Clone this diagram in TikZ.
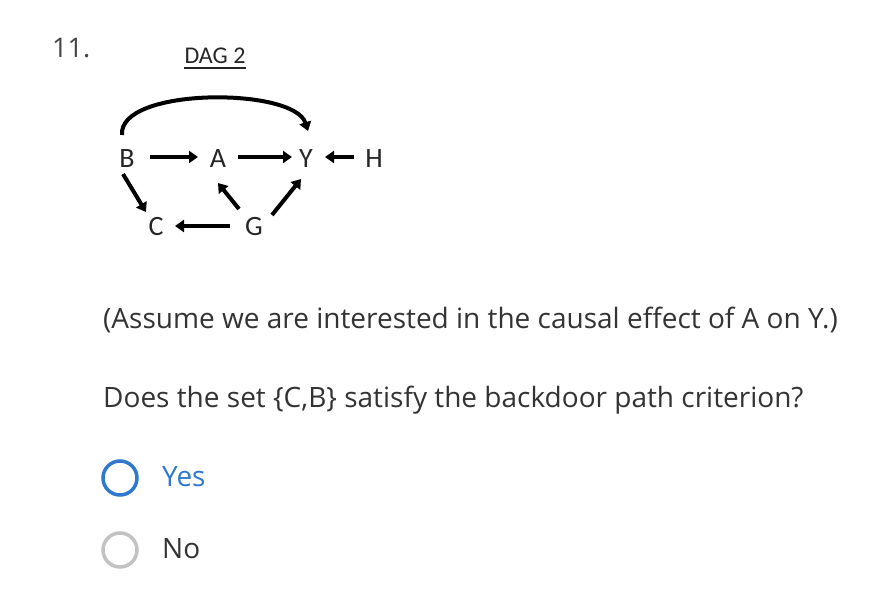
\documentclass[tikz,border=0pt]{standalone}
\usepackage{fontspec}
\setmainfont{Open Sans}
\newfontfamily\dagfont{Carlito}
\usetikzlibrary{arrows.meta,calc}
\definecolor{txt}{HTML}{333333}
\definecolor{numc}{HTML}{444444}
\definecolor{blueq}{HTML}{2F78CC}
\definecolor{grayq}{HTML}{C2C2C2}
\begin{document}
\begin{tikzpicture}[x=1pt,y=-1pt,
  var/.style={font=\dagfont\fontsize{28}{30}\selectfont, text=black!85, inner sep=0pt},
  dagarrow/.style={line width=4pt, -{Triangle[length=9pt,width=12pt]}},
  qtext/.style={font=\fontsize{28}{32}\selectfont, text=txt, anchor=west, inner sep=0pt},
  radio/.style={circle, minimum size=34pt, inner sep=0pt, line width=3.5pt}]
\useasboundingbox (0,0) rectangle (888,604);
\node[anchor=west, inner sep=0pt, text=numc, font=\fontsize{27}{30}\selectfont] (num) at (52,48) {11.};
\node[inner sep=0pt, text=black!85, font=\dagfont\fontsize{24}{26}\selectfont] (title) at (215,56) {DAG 2};
\draw[line width=1.8pt, black!85] ($(title.south west)+(0,4)$) coordinate (ul1) -- ($(title.south east)+(0,4)$) coordinate (ul2);
\node[var] (B) at (127,159) {B};
\node[var] (A) at (218,159) {A};
\node[var] (Y) at (306,159) {Y};
\node[var] (H) at (374,159) {H};
\node[var] (C) at (156,227) {C};
\node[var] (G) at (254,227) {G};
% curved B -> Y
\coordinate (arcS) at ($(B)+(-5,-24)$);
\coordinate (arcE) at ($(Y)+(2,-28)$);
\draw[dagarrow] (arcS) .. controls ($(arcS)+(-4,-48)$) and ($(arcE)+(-14,-44)$) .. (arcE);
% straight arrows
\draw[dagarrow] ($(B)+(23,-2)$) coordinate (ba1) -- ($(A)+(-20,-2)$) coordinate (ba2);
\draw[dagarrow] ($(A)+(20,-2)$) coordinate (ay1) -- ($(Y)+(-14,-2)$) coordinate (ay2);
\draw[dagarrow] ($(H)+(-20,-2)$) coordinate (hy1) -- ($(Y)+(19,-2)$) coordinate (hy2);
\draw[dagarrow] ($(B)+(-4,15)$) coordinate (bc1) -- ($(C)+(-10,-15)$) coordinate (bc2);
\draw[dagarrow] ($(G)+(-15,-18)$) coordinate (ga1) -- ($(A)+(0,24)$) coordinate (ga2);
\draw[dagarrow] ($(G)+(18,-12)$) coordinate (gy1) -- ($(Y)+(-5,20)$) coordinate (gy2);
\draw[dagarrow] ($(G)+(-24,-1)$) coordinate (gc1) -- ($(C)+(19,-1)$) coordinate (gc2);
\node[qtext] (q1) at (103,320) {(Assume we are interested in the causal effect of A on Y.)};
\node[qtext] (q2) at (103,400) {Does the set \{C,B\} satisfy the backdoor path criterion?};
\node[radio, draw=blueq] (r1) at (120,478) {};
\node[radio, draw=grayq] (r2) at (120,550) {};
\node[qtext, text=blueq] (yes) at (162,477) {Yes};
\node[qtext] (no) at (162,549) {No};
\end{tikzpicture}
\end{document}
